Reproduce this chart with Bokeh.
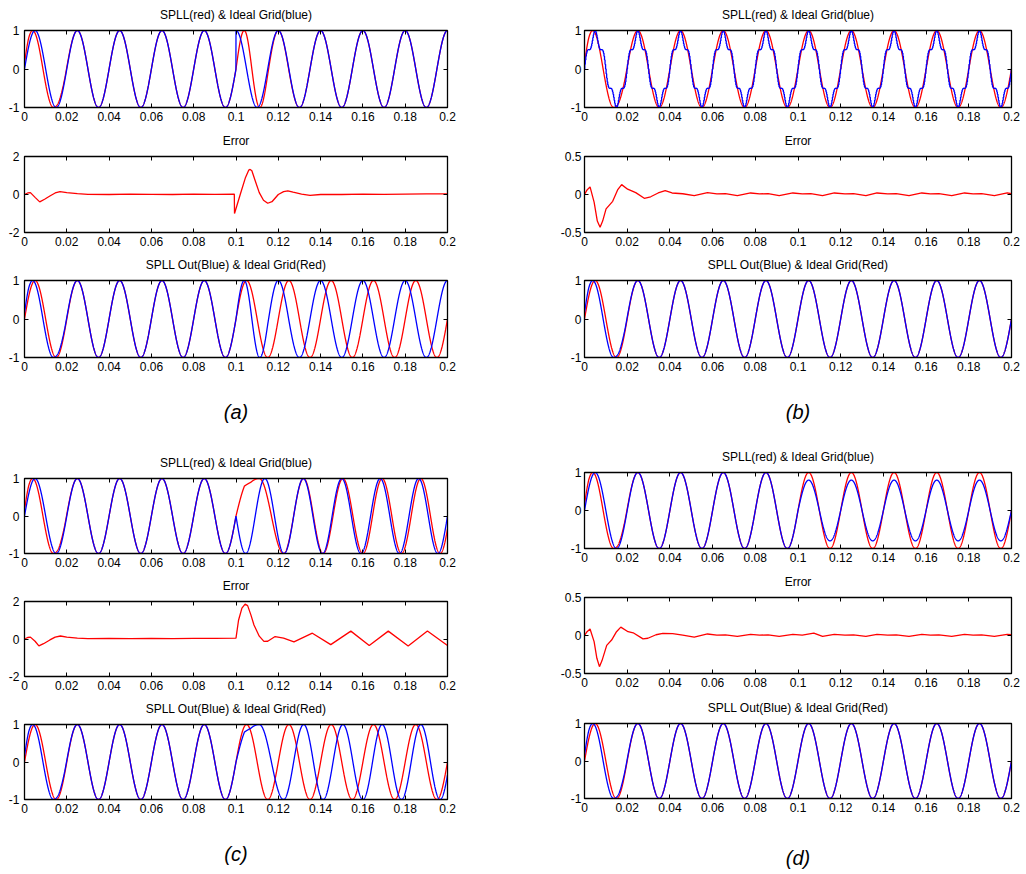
import numpy as np
from bokeh.plotting import figure
from bokeh.layouts import column, row
from bokeh.models import Range1d, FixedTicker, LinearAxis, CustomLabelingPolicy
from bokeh.embed import file_html
from bokeh.resources import INLINE

# ---------------- data ----------------
T_END = 0.2
F_NOMINAL = 50.0        # Hz, nominal grid / SPLL reference frequency
N_SAMPLES = 4001

X_TICKS = [0.0, 0.02, 0.04, 0.06, 0.08, 0.1, 0.12, 0.14, 0.16, 0.18, 0.2]
X_TICK_LABELS = ["0", "0.02", "0.04", "0.06", "0.08", "0.1", "0.12", "0.14", "0.16", "0.18", "0.2"]
SIG_TICKS = [-1, 0, 1]
SIG_TICK_LABELS = ["-1", "0", "1"]
ERR_TICKS_WIDE = [-2, 0, 2]
ERR_TICK_LABELS_WIDE = ["-2", "0", "2"]
ERR_TICKS_NARROW = [-0.5, 0, 0.5]
ERR_TICK_LABELS_NARROW = ["-0.5", "0", "0.5"]

TITLE_TOP = "SPLL(red) & Ideal Grid(blue)"
TITLE_ERR = "Error"
TITLE_BOTTOM = "SPLL Out(Blue) & Ideal Grid(Red)"
PANEL_LABELS = ["(a)", "(b)", "(c)", "(d)"]

# Ideal grid, piecewise sinusoid (segment start, frequency, phase, amplitude)
GRID_A_START = [0.0, 0.1]
GRID_A_FREQ = [50.0, 50.0]
GRID_A_PHASE_DEG = [0.0, 90.0]
GRID_A_AMP = [1.0, 1.0]

GRID_C_START = [0.0, 0.1]
GRID_C_FREQ = [50.0, 55.0]
GRID_C_PHASE_DEG = [0.0, 0.0]
GRID_C_AMP = [1.0, 1.0]

GRID_D_START = [0.0, 0.1]
GRID_D_FREQ = [50.0, 50.0]
GRID_D_PHASE_DEG = [0.0, 0.0]
GRID_D_AMP = [1.0, 0.8]

# Distorted grid of (b): harmonic orders, relative amplitudes, sample-hold step
GRID_B_ORDERS = [1, 5]
GRID_B_REL_AMP = [1.0, 0.17]
GRID_B_HOLD = 0.00025

# SPLL estimated phase: lead over the 50 Hz reference (degrees) at key instants
SPLL_A_T = [0.0, 0.002, 0.004, 0.009, 0.0137, 0.016, 0.019, 0.025,
            0.1, 0.101, 0.1039, 0.1075, 0.1112, 0.115, 0.12, 0.125, 0.13, 0.2]
SPLL_A_LEAD = [9, 18, 21, 23, 23, 10, 3, 0,
               0, 5, 20, 45, 68, 82, 90, 92, 90, 90]

SPLL_B_T = [0.0, 0.002, 0.004, 0.009, 0.0137, 0.016, 0.019, 0.025, 0.2]
SPLL_B_LEAD = [9, 18, 21, 23, 23, 10, 3, 0, 0]

SPLL_C_T = [0.0, 0.002, 0.004, 0.009, 0.0137, 0.016, 0.019, 0.025,
            0.1, 0.104, 0.107, 0.111, 0.1225, 0.132, 0.141, 0.1505, 0.16,
            0.169, 0.1785, 0.188, 0.1965, 0.2]
SPLL_C_LEAD = [9, 18, 21, 23, 23, 10, 3, 0,
               0, -19, -62, -108, -135, -126, -112, -100, -90,
               -74, -58, -42, -27, -20]

SPLL_D_T = [0.0, 0.002, 0.004, 0.009, 0.0137, 0.016, 0.019, 0.025, 0.2]
SPLL_D_LEAD = [9, 18, 21, 23, 23, 10, 3, 0, 0]

# Error traces
ERR_A_T = [0, 0.0015, 0.0028, 0.005, 0.0072, 0.0095, 0.012, 0.0145, 0.0168, 0.02,
           0.025, 0.03, 0.04, 0.05, 0.06, 0.07, 0.08, 0.09, 0.0992, 0.0993,
           0.102, 0.1045, 0.106, 0.1067, 0.1075, 0.109, 0.111, 0.113, 0.115, 0.117,
           0.12, 0.1225, 0.1245, 0.127, 0.131, 0.135, 0.14, 0.15, 0.16, 0.17,
           0.18, 0.19, 0.2]
ERR_A_V = [0, 0.08, 0.1, -0.15, -0.39, -0.25, -0.08, 0.08, 0.15, 0.1,
           0.05, 0.01, 0.0, 0.02, 0.01, 0.0, 0.02, 0.01, 0.02, -1.0,
           0.0, 0.9, 1.28, 1.32, 1.25, 0.75, 0.1, -0.3, -0.46, -0.38,
           0.0, 0.15, 0.19, 0.12, 0.02, -0.05, 0.0, 0.0, 0.02, 0.01,
           0.02, 0.03, 0.03]

ERR_B_T = [0, 0.0012, 0.0026, 0.0045, 0.006, 0.0073, 0.0085, 0.0101, 0.0132, 0.0155,
           0.0174, 0.0202, 0.024, 0.028, 0.031, 0.0345, 0.0378, 0.041, 0.046, 0.0514,
           0.0576, 0.062, 0.066, 0.0716, 0.0778, 0.082, 0.086, 0.0912, 0.0976, 0.102,
           0.106, 0.1115, 0.117, 0.122, 0.126, 0.1318, 0.137, 0.142, 0.146, 0.152,
           0.158, 0.162, 0.166, 0.172, 0.178, 0.182, 0.186, 0.192, 0.198, 0.2]
ERR_B_V = [0, 0.06, 0.1, -0.1, -0.35, -0.43, -0.35, -0.19, -0.09, 0.06,
           0.13, 0.07, 0.025, -0.05, -0.03, 0.02, 0.05, 0.02, 0.01, -0.015,
           0.024, 0.008, 0.012, -0.015, 0.02, 0.008, 0.012, -0.015, 0.02, 0.008,
           0.012, -0.015, 0.02, 0.008, 0.012, -0.015, 0.02, 0.008, 0.012, -0.015,
           0.02, 0.008, 0.012, -0.015, 0.02, 0.008, 0.012, -0.015, 0.02, 0.01]

ERR_C_T = [0, 0.0015, 0.0028, 0.005, 0.0068, 0.009, 0.012, 0.0145, 0.017, 0.02,
           0.025, 0.03, 0.04, 0.05, 0.06, 0.07, 0.08, 0.09, 0.1, 0.1012,
           0.1028, 0.1043, 0.1055, 0.107, 0.1085, 0.111, 0.1132, 0.115, 0.1185, 0.1225,
           0.1274, 0.1361, 0.1448, 0.1543, 0.163, 0.172, 0.1814, 0.1905, 0.2]
ERR_C_V = [0, 0.08, 0.1, -0.12, -0.37, -0.25, -0.05, 0.1, 0.16, 0.1,
           0.05, 0.02, 0.03, 0.02, 0.03, 0.02, 0.03, 0.03, 0.05, 1.0,
           1.65, 1.86, 1.78, 1.3, 0.75, 0.15, -0.13, -0.12, 0.13, 0.05,
           -0.15, 0.31, -0.3, 0.42, -0.35, 0.42, -0.37, 0.43, -0.35]

ERR_D_T = [0, 0.0012, 0.0026, 0.0045, 0.0058, 0.007, 0.0082, 0.0104, 0.0127, 0.015,
           0.017, 0.0204, 0.0228, 0.0274, 0.0297, 0.0335, 0.0367, 0.0413, 0.046, 0.0514,
           0.0576, 0.062, 0.066, 0.0716, 0.0778, 0.082, 0.086, 0.0912, 0.0976, 0.102,
           0.1074, 0.1115, 0.117, 0.122, 0.126, 0.1318, 0.137, 0.142, 0.146, 0.152,
           0.158, 0.162, 0.166, 0.172, 0.178, 0.182, 0.186, 0.192, 0.198, 0.2]
ERR_D_V = [0, 0.05, 0.085, -0.08, -0.3, -0.41, -0.33, -0.13, -0.06, 0.05,
           0.11, 0.05, 0.036, -0.045, -0.036, 0.01, 0.028, 0.024, 0.005, -0.02,
           0.02, 0.005, 0.008, -0.012, 0.015, 0.005, 0.008, -0.012, 0.015, 0.005,
           0.03, -0.012, 0.015, 0.005, 0.008, -0.012, 0.015, 0.005, 0.008, -0.012,
           0.015, 0.005, 0.008, -0.012, 0.015, 0.005, 0.008, -0.012, 0.015, 0.01]

# ---------------- styling ----------------
FONT = "Liberation Sans"
RED = "#ff0000"
BLUE = "#0000ff"
LW = 1.3
NO_LABELS = "for (const i of indices) { if (i < 0) { yield i } }"


def grid_wave(t, starts, freqs, phases, amps):
    idx = np.searchsorted(np.asarray(starts), t, side="right") - 1
    f = np.asarray(freqs)[idx]
    ph = np.deg2rad(np.asarray(phases))[idx]
    a = np.asarray(amps)[idx]
    return a * np.sin(2 * np.pi * f * t + ph)


def spll_wave(t, key_t, lead_deg):
    return np.sin(2 * np.pi * F_NOMINAL * t + np.deg2rad(np.interp(t, key_t, lead_deg)))


def harmonic_wave(t, orders, rel_amp):
    y = np.zeros_like(t)
    for k, a in zip(orders, rel_amp):
        y = y + a * np.sin(2 * np.pi * k * F_NOMINAL * t)
    return y


t = np.linspace(0.0, T_END, N_SAMPLES)
ref50 = grid_wave(t, [0.0], [F_NOMINAL], [0.0], [1.0])


def style_axis(ax, ticks, labels, show=True, standoff=4):
    ax.ticker = FixedTicker(ticks=ticks, minor_ticks=[])
    ax.major_label_overrides = {k: v for k, v in zip(ticks, labels)}
    ax.major_tick_in = 4
    ax.major_tick_out = 0
    ax.minor_tick_line_color = None
    ax.axis_line_color = "black"
    ax.major_tick_line_color = "black"
    ax.major_label_text_font = FONT
    ax.major_label_text_color = "black"
    if show:
        ax.major_label_text_font_size = "12px"
        ax.major_label_standoff = standoff
    else:
        ax.major_label_text_font_size = "1px"
        ax.major_label_standoff = 0
        ax.major_label_policy = CustomLabelingPolicy(code=NO_LABELS)


def make_fig(width, height, left, right, top, bottom, ylim, yticks, ylabels, title,
             ylab_standoff, panel_label=None, label_standoff=27):
    p = figure(width=width, height=height, x_range=Range1d(0, T_END),
               y_range=Range1d(ylim[0], ylim[1]), output_backend="svg",
               toolbar_location=None, tools="", title=title,
               min_border_left=left, min_border_right=right,
               min_border_top=top, min_border_bottom=bottom)
    p.title.align = "center"
    p.title.text_font = FONT
    p.title.text_font_size = "12px"
    p.title.text_font_style = "normal"
    p.title.text_color = "black"
    p.title.standoff = 10
    p.xgrid.visible = False
    p.ygrid.visible = False
    p.outline_line_color = "black"
    p.outline_line_width = 1.3
    p.background_fill_color = "white"
    p.border_fill_color = "white"
    bottom_ax = p.xaxis[0]
    style_axis(bottom_ax, X_TICKS, X_TICK_LABELS, True, 4)
    style_axis(p.yaxis[0], yticks, ylabels, True, ylab_standoff)
    if panel_label:
        bottom_ax.axis_label = panel_label
        bottom_ax.axis_label_text_font = FONT
        bottom_ax.axis_label_text_font_size = "20px"
        bottom_ax.axis_label_text_font_style = "italic"
        bottom_ax.axis_label_text_color = "black"
        bottom_ax.axis_label_standoff = label_standoff
    top_ax = LinearAxis()
    style_axis(top_ax, X_TICKS, X_TICK_LABELS, False)
    p.add_layout(top_ax, "above")
    right_ax = LinearAxis()
    style_axis(right_ax, yticks, ylabels, False)
    p.add_layout(right_ax, "right")
    return p


# ---------------- curves ----------------
grid_a = grid_wave(t, GRID_A_START, GRID_A_FREQ, GRID_A_PHASE_DEG, GRID_A_AMP)
grid_c = grid_wave(t, GRID_C_START, GRID_C_FREQ, GRID_C_PHASE_DEG, GRID_C_AMP)
grid_d = grid_wave(t, GRID_D_START, GRID_D_FREQ, GRID_D_PHASE_DEG, GRID_D_AMP)
t_hold = np.arange(0.0, T_END + GRID_B_HOLD / 2, GRID_B_HOLD)
grid_b = harmonic_wave(t_hold, GRID_B_ORDERS, GRID_B_REL_AMP)
grid_b = grid_b / np.max(np.abs(harmonic_wave(t, GRID_B_ORDERS, GRID_B_REL_AMP)))

spll_a = spll_wave(t, SPLL_A_T, SPLL_A_LEAD)
spll_b = spll_wave(t, SPLL_B_T, SPLL_B_LEAD)
spll_c = spll_wave(t, SPLL_C_T, SPLL_C_LEAD)
spll_d = spll_wave(t, SPLL_D_T, SPLL_D_LEAD)

# ---------------- layout (left column: a, c ; right column: b, d) ----------------
WL, WR = 540, 486

# panel (a)
a1 = make_fig(WL, 126, 24, 87, 29, 19, (-1, 1), SIG_TICKS, SIG_TICK_LABELS, TITLE_TOP, 5)
a1.line(t, spll_a, color=RED, line_width=LW)
a1.line(t, grid_a, color=BLUE, line_width=LW)
a2 = make_fig(WL, 124, 24, 87, 28, 18, (-2, 2), ERR_TICKS_WIDE, ERR_TICK_LABELS_WIDE, TITLE_ERR, 5)
a2.line(ERR_A_T, ERR_A_V, color=RED, line_width=LW)
a3 = make_fig(WL, 198, 24, 87, 28, 91, (-1, 1), SIG_TICKS, SIG_TICK_LABELS, TITLE_BOTTOM, 5,
              PANEL_LABELS[0], 27)
a3.line(t, ref50, color=RED, line_width=LW)
a3.line(t, spll_a, color=BLUE, line_width=LW)

# panel (c)
c1 = make_fig(WL, 123, 24, 93, 28, 18, (-1, 1), SIG_TICKS, SIG_TICK_LABELS, TITLE_TOP, 5)
c1.line(t, spll_c, color=RED, line_width=LW)
c1.line(t, grid_c, color=BLUE, line_width=LW)
c2 = make_fig(WL, 123, 24, 93, 28, 18, (-2, 2), ERR_TICKS_WIDE, ERR_TICK_LABELS_WIDE, TITLE_ERR, 5)
c2.line(ERR_C_T, ERR_C_V, color=RED, line_width=LW)
c3 = make_fig(WL, 180, 24, 93, 28, 75, (-1, 1), SIG_TICKS, SIG_TICK_LABELS, TITLE_BOTTOM, 5,
              PANEL_LABELS[2], 27)
c3.line(t, ref50, color=RED, line_width=LW)
c3.line(t, spll_c, color=BLUE, line_width=LW)

# panel (b)
b1 = make_fig(WR, 126, 44, 13, 29, 19, (-1, 1), SIG_TICKS, SIG_TICK_LABELS, TITLE_TOP, 3)
b1.line(t, spll_b, color=RED, line_width=LW)
b1.step(t_hold, grid_b, mode="center", color=BLUE, line_width=LW)
b2 = make_fig(WR, 124, 44, 13, 28, 18, (-0.5, 0.5), ERR_TICKS_NARROW, ERR_TICK_LABELS_NARROW, TITLE_ERR, 3)
b2.line(ERR_B_T, ERR_B_V, color=RED, line_width=LW)
b3 = make_fig(WR, 192, 44, 13, 28, 85, (-1, 1), SIG_TICKS, SIG_TICK_LABELS, TITLE_BOTTOM, 3,
              PANEL_LABELS[1], 27)
b3.line(t, ref50, color=RED, line_width=LW)
b3.line(t, spll_b, color=BLUE, line_width=LW)

# panel (d)
d1 = make_fig(WR, 125, 40, 15, 29, 19, (-1, 1), SIG_TICKS, SIG_TICK_LABELS, TITLE_TOP, 3)
d1.line(t, spll_d, color=RED, line_width=LW)
d1.line(t, grid_d, color=BLUE, line_width=LW)
d2 = make_fig(WR, 126, 40, 15, 27, 20, (-0.5, 0.5), ERR_TICKS_NARROW, ERR_TICK_LABELS_NARROW, TITLE_ERR, 3)
d2.line(ERR_D_T, ERR_D_V, color=RED, line_width=LW)
d3 = make_fig(WR, 181, 40, 15, 28, 76, (-1, 1), SIG_TICKS, SIG_TICK_LABELS, TITLE_BOTTOM, 3,
              PANEL_LABELS[3], 32)
d3.line(t, ref50, color=RED, line_width=LW)
d3.line(t, spll_d, color=BLUE, line_width=LW)

layout = row(column(a1, a2, a3, c1, c2, c3), column(b1, b2, b3, d1, d2, d3))

open("out.html", "w").write(file_html(layout, INLINE))
